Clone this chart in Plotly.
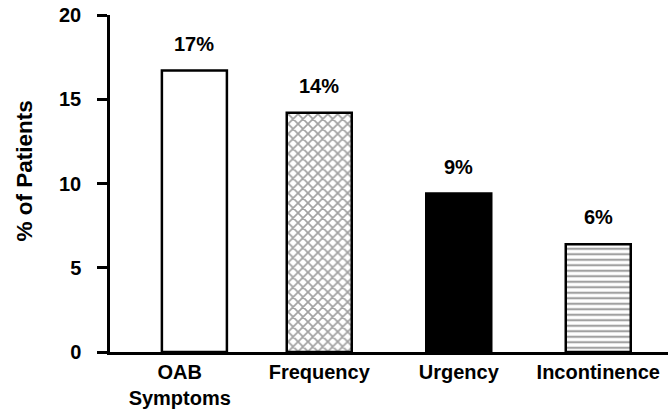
import plotly.graph_objects as go

categories = ["OAB<br>Symptoms", "Frequency", "Urgency", "Incontinence"]
values = [16.7, 14.2, 9.4, 6.4]
value_labels = ["17%", "14%", "9%", "6%"]
y_ticks = [0, 5, 10, 15, 20]
y_title = "% of Patients"

# styling
fill_colors = ["white", "white", "black", "white"]
pattern_shapes = ["", "x", "", "-"]
pattern_sizes = [6, 7, 6, 5.5]
pattern_solidity = [0.3, 0.42, 0.3, 0.4]
BAR_W = 0.466
bar_shift = [0.105, 0, 0, 0]  # horizontal nudge (category units) per bar
FONT = "Liberation Sans, Arial, Helvetica, sans-serif"

W, H = 668, 414
ML, MT, MB, MR = 110, 15, 62, 0
X_RANGE = [-0.5, 3.5]
UNIT_PX = (W - ML - MR) / (X_RANGE[1] - X_RANGE[0])

fig = go.Figure()
fig.add_trace(go.Bar(
    x=categories,
    y=values,
    width=BAR_W,
    offset=[-BAR_W / 2 + s for s in bar_shift],
    marker=dict(
        color=fill_colors,
        line=dict(color="black", width=2.5),
        pattern=dict(shape=pattern_shapes, fgcolor="black", bgcolor="white",
                     size=pattern_sizes, solidity=pattern_solidity, fillmode="overlay"),
    ),
    showlegend=False,
    hoverinfo="skip",
))

for c, v, t, s in zip(categories, values, value_labels, bar_shift):
    fig.add_annotation(x=c, y=v, text=t, showarrow=False,
                       yanchor="bottom", yshift=14, xshift=s * UNIT_PX,
                       font=dict(family=FONT, size=20, color="black", weight="bold"))

# y-axis title as a rotated annotation for precise placement
fig.add_annotation(xref="paper", yref="paper", x=0, y=0.5, text=y_title,
                   textangle=-90, showarrow=False, xanchor="center", yanchor="middle",
                   xshift=-86, yshift=12,
                   font=dict(family=FONT, size=22.5, color="black", weight="bold"))

fig.update_layout(
    width=W, height=H,
    margin=dict(l=ML, r=MR, t=MT, b=MB, autoexpand=False),
    paper_bgcolor="white", plot_bgcolor="white",
    font=dict(family=FONT, color="black"),
)
fig.update_xaxes(
    range=X_RANGE, automargin=False,
    showline=True, linecolor="black", linewidth=2.5,
    ticks="", showgrid=False, zeroline=False,
    tickfont=dict(family=FONT, size=20, color="black", weight="bold"),
    ticklabelstandoff=0,
)
fig.update_yaxes(
    range=[0, 20], tickvals=y_ticks, automargin=False,
    showline=True, linecolor="black", linewidth=2.5,
    ticks="outside", ticklen=10, tickwidth=2.5, tickcolor="black",
    showgrid=False, zeroline=False,
    tickfont=dict(family=FONT, size=20, color="black", weight="bold"),
    ticklabelstandoff=12, ticklabeloverflow="allow",
)

fig.write_html("out.html", config={"displayModeBar": False},
               post_script="document.body.style.margin='0';")
